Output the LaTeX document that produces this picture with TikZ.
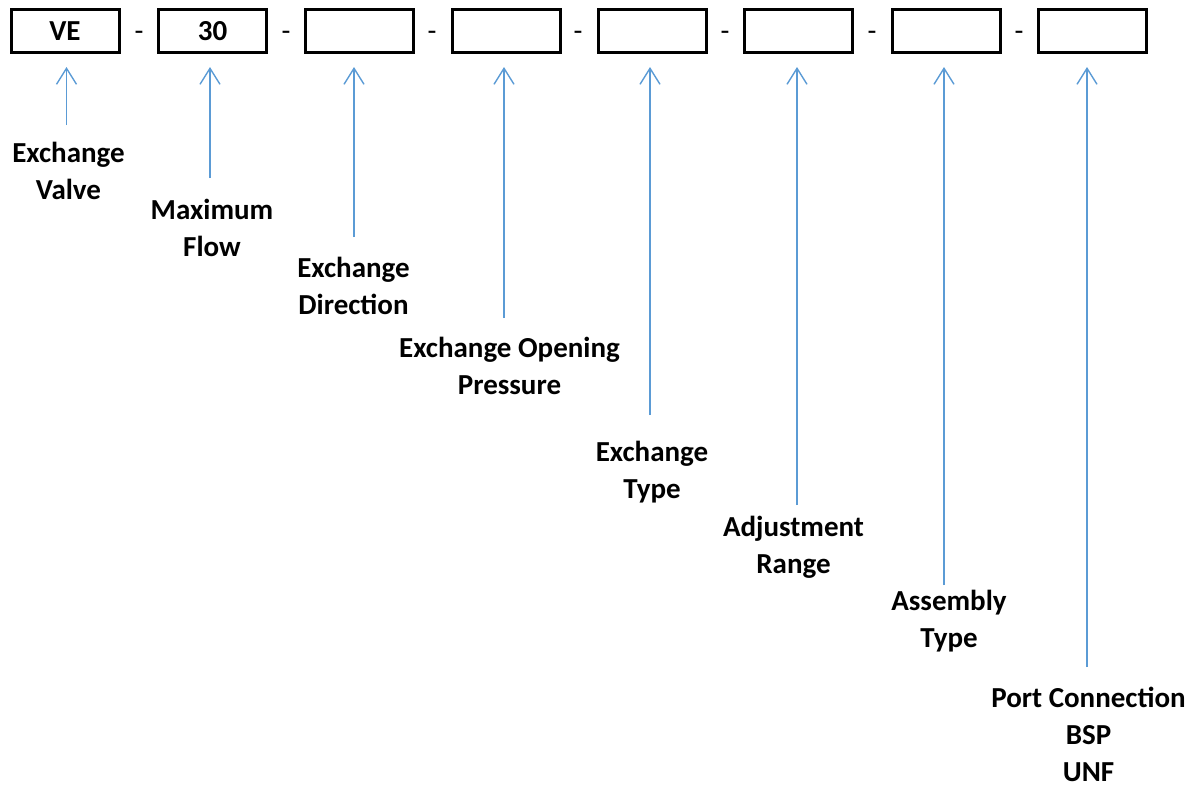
\documentclass[tikz,border=0pt]{standalone}
\usepackage{fontspec}
\setmainfont{Carlito}
\usetikzlibrary{arrows.meta}
\definecolor{arrblue}{HTML}{5B9BD5}
\begin{document}
\begin{tikzpicture}[x=1pt,y=-1pt,
  codebox/.style={draw=black,line width=3pt,minimum width=108pt,minimum height=43pt,inner sep=0pt,
    font=\fontsize{29}{37}\selectfont\bfseries},
  sep/.style={anchor=base,inner sep=0pt,font=\fontsize{29}{37}\selectfont},
  lbl/.style={align=center,inner sep=0pt,font=\fontsize{29}{37}\selectfont\bfseries},
  arr/.style={draw=arrblue,line width=1.4pt,-{Straight Barb[length=16pt,width=20pt,line width=1.4pt]}}]
\useasboundingbox (0,0) rectangle (1195,788);
% boxes
\node[codebox] (b1) at (65,31) {VE};
\node[codebox] (b2) at (212.5,31) {30};
\node[codebox] (b3) at (359,31) {};
\node[codebox] (b4) at (506,31) {};
\node[codebox] (b5) at (652,31) {};
\node[codebox] (b6) at (798.5,31) {};
\node[codebox] (b7) at (946,31) {};
\node[codebox] (b8) at (1092.5,31) {};
% separators
\node[sep] (s1) at (139,40.7) {-};
\node[sep] (s2) at (286,40.7) {-};
\node[sep] (s3) at (432,40.7) {-};
\node[sep] (s4) at (578,40.7) {-};
\node[sep] (s5) at (725,40.7) {-};
\node[sep] (s6) at (872,40.7) {-};
\node[sep] (s7) at (1019,40.7) {-};
% labels
\node[lbl] (l1) at (68.5,173.5) {Exchange\strut\\Valve\strut};
\node[lbl] (l2) at (212,231) {Maximum\strut\\Flow\strut};
\node[lbl] (l3) at (353.5,289) {Exchange\strut\\Direction\strut};
\node[lbl] (l4) at (509.5,369) {Exchange Opening\strut\\Pressure\strut};
\node[lbl] (l5) at (652,473) {Exchange\strut\\Type\strut};
\node[lbl] (l6) at (793.5,548) {Adjustment\strut\\Range\strut};
\node[lbl] (l7) at (949,622) {Assembly\strut\\Type\strut};
\node[lbl] (l8) at (1088.5,737) {Port Connection\strut\\BSP\strut\\UNF\strut};
% arrow ends
\coordinate (e1) at (66.5,125);
\coordinate (e2) at (210,178);
\coordinate (e3) at (354,237);
\coordinate (e4) at (504,318);
\coordinate (e5) at (650,415);
\coordinate (e6) at (797,505);
\coordinate (e7) at (944,585);
\coordinate (e8) at (1087,667);
\coordinate (t1) at (66.5,67);
\coordinate (t2) at (210,67);
\coordinate (t3) at (354,67);
\coordinate (t4) at (504,67);
\coordinate (t5) at (650,67);
\coordinate (t6) at (797,67);
\coordinate (t7) at (944,67);
\coordinate (t8) at (1087,67);
\foreach \i in {1,...,8} {\draw[arr] (e\i) -- (t\i);}
\end{tikzpicture}
\end{document}
